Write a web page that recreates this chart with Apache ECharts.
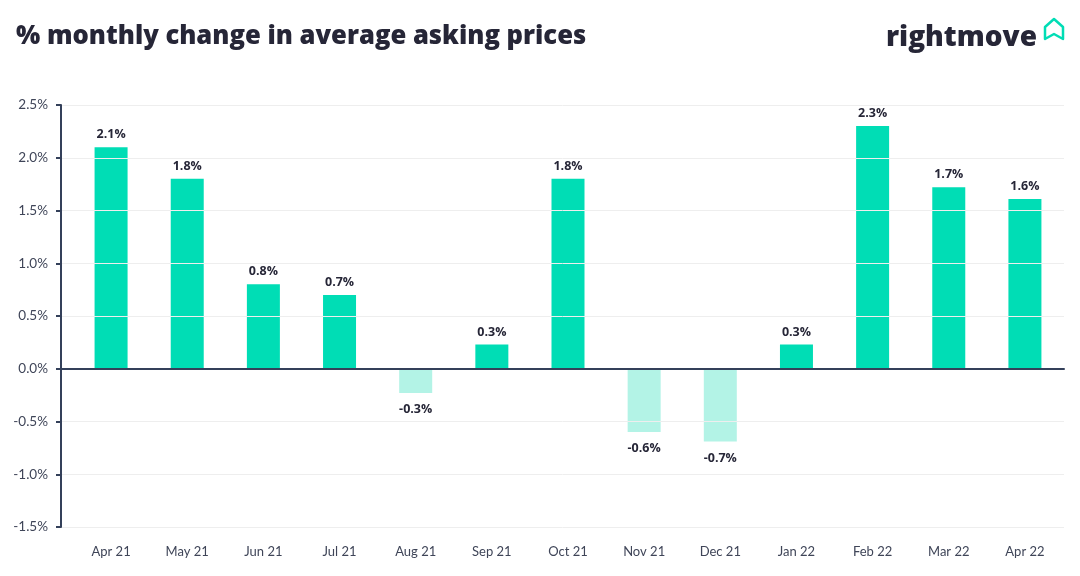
<!DOCTYPE html>
<html>
<head>
<meta charset="utf-8">
<script src="https://cdn.jsdelivr.net/npm/echarts@6/dist/echarts.min.js"></script>
<style>html,body{margin:0;padding:0;background:#fff}#c{width:1080px;height:576px}</style>
</head>
<body>
<div id="c"></div>
<script>
const categories = ['Apr 21','May 21','Jun 21','Jul 21','Aug 21','Sep 21','Oct 21','Nov 21','Dec 21','Jan 22','Feb 22','Mar 22','Apr 22'];
const values = [2.1, 1.8, 0.8, 0.7, -0.23, 0.23, 1.8, -0.6, -0.69, 0.23, 2.3, 1.72, 1.61];
const valueLabels = ['2.1%','1.8%','0.8%','0.7%','-0.3%','0.3%','1.8%','-0.6%','-0.7%','0.3%','2.3%','1.7%','1.6%'];
const yMin = -1.5, yMax = 2.5, yStep = 0.5;
const titleText = '% monthly change in average asking prices';
const brandText = 'rightmove';

const FONT = 'Lato, "Open Sans", sans-serif';
const BFONT = '"Open Sans", Lato, sans-serif';
const POS = '#00DDB5', NEG = '#B3F3E6', NAVY = '#262637', AXIS = '#34405a', TXT = '#3f4558';

const chart = echarts.init(document.getElementById('c'));
chart.setOption({
  animation: false,
  backgroundColor: '#fff',
  grid: [
    {left: 61, right: 16, top: 105, bottom: 49},
    {left: 73, right: 17, top: 105, bottom: 49}
  ],
  graphic: [
    {type: 'text', left: 16, top: 24, style: {text: titleText, font: '800 25.6px ' + BFONT, fill: NAVY}},
    {type: 'text', right: 43, top: 24, style: {text: brandText, font: '800 28px ' + BFONT, fill: NAVY}},
    {type: 'polygon', shape: {points: [[1045,39],[1045,27],[1054,19],[1063,27],[1063,39],[1054,34]]},
     style: {fill: 'none', stroke: POS, lineWidth: 2.5, lineJoin: 'round'}}
  ],
  xAxis: [
    {gridIndex: 0, type: 'value', min: 0, max: 1, z: 5,
     axisLine: {show: true, onZero: true, lineStyle: {color: AXIS, width: 2}},
     axisTick: {show: false}, axisLabel: {show: false}, splitLine: {show: false}},
    {gridIndex: 1, type: 'category', data: categories,
     axisLine: {show: false}, axisTick: {show: false},
     axisLabel: {color: TXT, fontFamily: FONT, fontSize: 13, margin: 18}}
  ],
  yAxis: [
    {gridIndex: 0, type: 'value', min: yMin, max: yMax, interval: yStep, z: 5,
     axisLine: {show: true, lineStyle: {color: AXIS, width: 2}},
     axisTick: {show: true, length: 5, lineStyle: {color: AXIS, width: 2}},
     axisLabel: {color: TXT, fontFamily: FONT, fontSize: 13.5, margin: 13,
       formatter: v => v.toFixed(1) + '%'},
     splitLine: {show: true, lineStyle: {color: '#eeeeee', width: 1}}},
    {gridIndex: 1, type: 'value', min: yMin, max: yMax, interval: yStep, show: false}
  ],
  series: [{
    type: 'bar', xAxisIndex: 1, yAxisIndex: 1, barWidth: 33,
    data: values.map((v, i) => ({
      value: v,
      itemStyle: {color: v >= 0 ? POS : NEG},
      label: {show: true, position: v >= 0 ? 'top' : 'bottom', distance: v >= 0 ? 6 : 10,
        formatter: valueLabels[i], color: NAVY, fontFamily: BFONT, fontWeight: 'bold', fontSize: 12.5}
    }))
  }]
});
</script>
</body>
</html>
